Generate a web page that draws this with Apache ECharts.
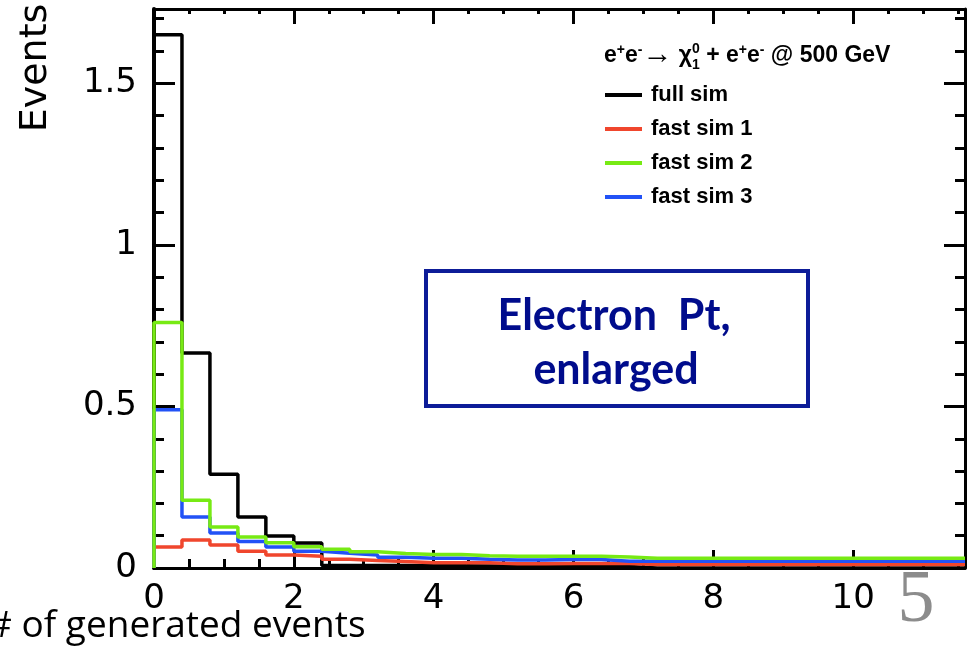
<!DOCTYPE html>
<html><head><meta charset="utf-8">
<script src="https://cdn.jsdelivr.net/npm/echarts@6/dist/echarts.min.js"></script>
<style>html,body{margin:0;padding:0;background:#fff}#c{width:972px;height:653px}</style>
</head><body><div id="c"></div>
<script>
// ---- data ----
const binLowEdges = [0,0.4,0.8,1.2,1.6,2.0,2.4,2.8,3.2,3.6,4.0,4.4,4.8,5.2,5.6,6.0,6.4,6.8,7.2,7.6,8.0,8.4,8.8,9.2,9.6,10.0,10.4,10.8,11.2];
const xUpperEdge = 11.6;
const fullSim  = [1.65,0.665,0.29,0.158,0.099,0.077,0.008,0.008,0.008,0.007,0.007,0.006,0.006,0.006,0.005,0.005,0.005,0,0,0,0,0,0,0,0,0,0,0,0];
const fastSim1 = [0.065,0.087,0.071,0.052,0.040,0.036,0.027,0.023,0.020,0.016,0.016,0.016,0.013,0.013,0.014,0.014,0.014,0.011,0.011,0.011,0.011,0.011,0.011,0.011,0.011,0.011,0.011,0.011,0.011];
const fastSim2 = [0.76,0.21,0.127,0.096,0.078,0.066,0.058,0.050,0.045,0.042,0.042,0.038,0.036,0.036,0.036,0.036,0.034,0.030,0.030,0.030,0.030,0.030,0.030,0.030,0.030,0.030,0.030,0.030,0.030];
const fastSim3 = [0.49,0.158,0.108,0.082,0.065,0.052,0.046,0.040,0.033,0.030,0.030,0.027,0.025,0.025,0.026,0.026,0.021,0.021,0.021,0.021,0.021,0.021,0.021,0.021,0.021,0.021,0.021,0.021,0.021];
const seriesNames = ['full sim','fast sim 1','fast sim 2','fast sim 3'];
const xTickInterval = 2, yTickInterval = 0.5;
const yMax = 1.73;

function histPoints(vals){
  const pts = [[binLowEdges[0], 0]];
  vals.forEach((v,i)=>pts.push([binLowEdges[i], v]));
  pts.push([xUpperEdge, vals[vals.length-1]]);
  return pts;
}

const C = {black:'#000000', red:'#f0462d', green:'#77ea14', blue:'#2252f6'};
const labelFont = 'Liberation Sans';
const tickFont = 'DejaVu Sans';

const chart = echarts.init(document.getElementById('c'), null, {renderer:'canvas'});

function xAx(pos){
  const bottom = pos === 'bottom';
  return {
    type:'value', min:0, max:xUpperEdge, interval:xTickInterval, position:pos,
    axisLine:{show:true, onZero:false, lineStyle:{color:'#000', width:3}},
    axisTick:{show:true, inside:true, length: bottom?18:15, lineStyle:{color:'#000', width:3}},
    minorTick:{show:true, splitNumber:4, length: bottom?9:5, lineStyle:{color:'#000', width:3}},
    splitLine:{show:false}, minorSplitLine:{show:false},
    axisLabel:{show:bottom, color:'#000', fontSize:34, fontFamily:tickFont, margin:14, showMaxLabel:false}
  };
}
function yAx(pos){
  const left = pos === 'left';
  return {
    type:'value', min:0, max:yMax, interval:yTickInterval, position:pos,
    axisLine:{show:true, onZero:false, lineStyle:{color:'#000', width: left?4:3}},
    axisTick:{show:true, inside:true, length:21, lineStyle:{color:'#000', width:3}},
    minorTick:{show:true, splitNumber:5, length:10, lineStyle:{color:'#000', width:3}},
    splitLine:{show:false}, minorSplitLine:{show:false},
    axisLabel:{show:left, color:'#000', fontSize:34, fontFamily:tickFont, margin:17, showMaxLabel:false}
  };
}

function mk(name, vals, color){
  return {name, type:'line', step:'end', data:histPoints(vals), symbol:'none',
    lineStyle:{color, width:3.5}, itemStyle:{color}, xAxisIndex:0, yAxisIndex:0, silent:true};
}

// header with sub/superscripts, laid out from measured text widths
const mctx = document.createElement('canvas').getContext('2d');
function tw(t, size){ mctx.font = 'bold ' + size + 'px "Liberation Sans"'; return mctx.measureText(t).width; }
const hdrBase = 67, hdrX = 604, big = 23, small = 14;
const pieces = [
  [['e',big,0]], [['+',small,-10]], [['e',big,0]], [['-',small,-10]], [['\u2192',30,3]], [[' \u03c7',big,0]],
  [['0',small,-11],['1',small,5]], [[' + e',big,0]], [['+',small,-10]], [['e',big,0]], [['-',small,-10]], [[' @ 500 GeV',big,0]]
];
const hdrEls = [];
let cx = hdrX;
pieces.forEach(stack=>{
  let w = 0;
  stack.forEach(([t,s,dy])=>{
    hdrEls.push({type:'text', silent:true, style:{text:t, x:cx, y:hdrBase+dy, fontSize:s, fontWeight:'bold',
      fontFamily:labelFont, fill:'#000', align:'left', verticalAlign:'bottom'}});
    w = Math.max(w, tw(t,s));
  });
  cx += w;
});

chart.setOption({
  animation:false,
  backgroundColor:'#fff',
  grid:{left:154, right:7, top:9, bottom:85, containLabel:false},
  xAxis:[xAx('bottom'), xAx('top')],
  yAxis:[yAx('left'), yAx('right')],
  legend:{
    orient:'vertical', left:605, top:84, padding:0, itemWidth:37, itemHeight:4, itemGap:12, icon:'rect',
    data:seriesNames, selectedMode:false,
    textStyle:{fontSize:22, fontWeight:'bold', fontFamily:labelFont, color:'#000', lineHeight:20, padding:[0,0,0,4]}
  },
  series:[
    mk(seriesNames[0], fullSim, C.black),
    mk(seriesNames[1], fastSim1, C.red),
    mk(seriesNames[3], fastSim3, C.blue),
    mk(seriesNames[2], fastSim2, C.green)
  ],
  graphic:[
    ...hdrEls,
    {type:'text', silent:true, rotation:Math.PI/2, x:36, y:68,
      style:{text:'Events', fontSize:38, fontFamily:tickFont, fill:'#000', align:'center', verticalAlign:'middle'}},
    {type:'rect', silent:true, shape:{x:426, y:271, width:382, height:135},
      style:{fill:'#fff', stroke:'#0d1c98', lineWidth:4}},
    {type:'text', silent:true, style:{text:'Electron  Pt,', x:614, y:316, fontSize:43, fontWeight:'bold',
      fontFamily:'Lato', fill:'#000c8c', align:'center', verticalAlign:'middle'}},
    {type:'text', silent:true, style:{text:'enlarged', x:616, y:370, fontSize:43, fontWeight:'bold',
      fontFamily:'Lato', fill:'#000c8c', align:'center', verticalAlign:'middle'}},
    {type:'text', silent:true, style:{text:'# of generated events', x:-12, y:626, fontSize:37,
      fontFamily:'Open Sans', fill:'#000', align:'left', verticalAlign:'middle'}},
    {type:'text', silent:true, style:{text:'5', x:916, y:602, fontSize:74,
      fontFamily:'Liberation Serif', fill:'#8c8c8c', align:'center', verticalAlign:'middle'}}
  ]
});
</script></body></html>
